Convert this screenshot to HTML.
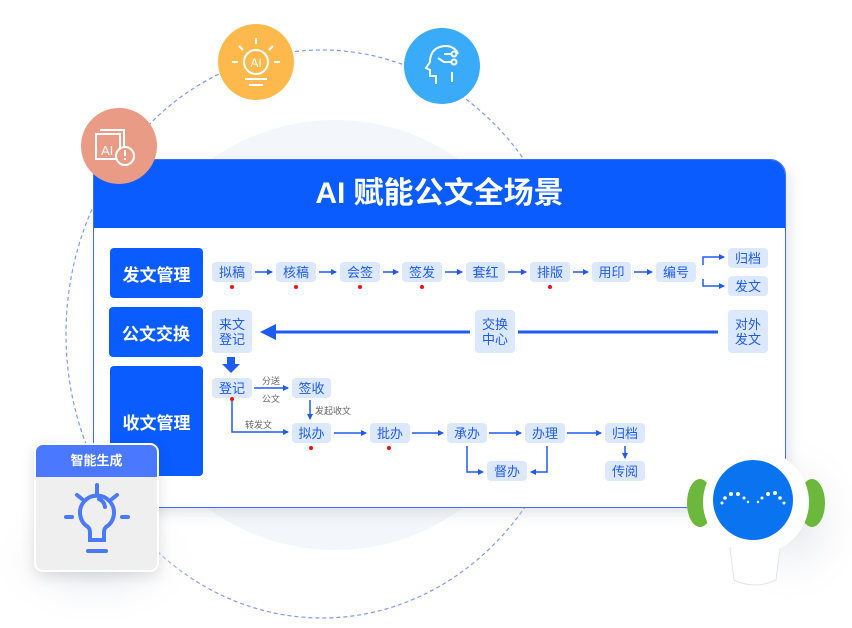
<!DOCTYPE html>
<html><head><meta charset="utf-8"><style>
html,body{margin:0;padding:0;background:#fff}
body{width:852px;height:628px;position:relative;overflow:hidden;font-family:"Liberation Sans","Noto Sans CJK SC",sans-serif}
.a{position:absolute}
.n{position:absolute;background:#dce8fd;border-radius:4px;color:#1e5bf0;font-size:13px;display:flex;align-items:center;justify-content:center;text-align:center;line-height:15px}
.s{position:absolute;background:#0a5cff;border-radius:4px;color:#fff;font-size:17px;font-weight:bold;display:flex;align-items:center;justify-content:center}
.d{position:absolute;width:4px;height:4px;border-radius:2px;background:#f01010}
.l{position:absolute;font-size:9px;color:#666}
</style></head><body>
<svg class="a" style="left:0;top:0" width="852" height="628">
<defs>
<radialGradient id="sh" cx="50%" cy="50%" r="50%"><stop offset="0" stop-color="#e3e5ea"/><stop offset="1" stop-color="#fff" stop-opacity="0"/></radialGradient>
<marker id="ar" markerWidth="6" markerHeight="6" refX="5" refY="3" orient="auto" markerUnits="userSpaceOnUse"><path d="M0,0 L6,3 L0,6 z" fill="#1e5bf0"/></marker>
</defs>
<ellipse cx="322" cy="334" rx="256" ry="284" fill="none" stroke="#7c9cf5" stroke-width="1.2" stroke-dasharray="4,3"/>
<circle cx="335" cy="335" r="215" fill="#f3f6fa"/>
<ellipse cx="95" cy="560" rx="110" ry="70" fill="url(#sh)"/>
<ellipse cx="790" cy="520" rx="80" ry="90" fill="url(#sh)"/>
<rect x="97" y="166" width="693" height="348" rx="16" fill="#c9ccd6" opacity="0.5" filter="blur(6px)"/>
</svg>
<div class="a" style="left:93px;top:159px;width:693px;height:349px;background:#fff;border-radius:16px 16px 0 0;border:1px solid #3f6cf0;box-sizing:border-box;overflow:hidden">
<div style="height:68px;background:#0a5cff;color:#fff;font-size:30px;font-weight:bold;text-align:center;line-height:68px">AI 赋能公文全场景</div>
</div>
<div class="s" style="left:110px;top:248px;width:93px;height:50px">发文管理</div>
<div class="s" style="left:109px;top:307px;width:94px;height:50px">公文交换</div>
<div class="s" style="left:110px;top:366px;width:93px;height:110px">收文管理</div>

<div class="n" style="left:212px;top:262px;width:40px;height:20px">拟稿</div>
<div class="n" style="left:276px;top:262px;width:40px;height:20px">核稿</div>
<div class="n" style="left:340px;top:262px;width:40px;height:20px">会签</div>
<div class="n" style="left:402px;top:262px;width:40px;height:20px">签发</div>
<div class="n" style="left:466px;top:262px;width:39px;height:20px">套红</div>
<div class="n" style="left:530px;top:262px;width:40px;height:20px">排版</div>
<div class="n" style="left:592px;top:262px;width:39px;height:20px">用印</div>
<div class="n" style="left:656px;top:262px;width:40px;height:20px">编号</div>
<div class="n" style="left:728px;top:248px;width:40px;height:20px">归档</div>
<div class="n" style="left:728px;top:276px;width:40px;height:20px">发文</div>
<div class="d" style="left:230px;top:285px"></div><div class="d" style="left:294px;top:285px"></div><div class="d" style="left:358px;top:285px"></div><div class="d" style="left:420px;top:285px"></div><div class="d" style="left:548px;top:285px"></div>

<div class="n" style="left:212px;top:310px;width:40px;height:43px">来文<br>登记</div>
<div class="n" style="left:475px;top:310px;width:40px;height:43px">交换<br>中心</div>
<div class="n" style="left:728px;top:310px;width:40px;height:43px">对外<br>发文</div>

<div class="n" style="left:212px;top:378px;width:40px;height:20px">登记</div>
<div class="n" style="left:292px;top:378px;width:39px;height:20px">签收</div>
<div class="n" style="left:292px;top:423px;width:39px;height:20px">拟办</div>
<div class="n" style="left:370px;top:423px;width:40px;height:20px">批办</div>
<div class="n" style="left:447px;top:423px;width:40px;height:20px">承办</div>
<div class="n" style="left:525px;top:423px;width:40px;height:20px">办理</div>
<div class="n" style="left:605px;top:423px;width:40px;height:20px">归档</div>
<div class="n" style="left:487px;top:461px;width:40px;height:20px">督办</div>
<div class="n" style="left:605px;top:461px;width:40px;height:20px">传阅</div>
<div class="d" style="left:230px;top:397px"></div><div class="d" style="left:309px;top:446px"></div><div class="d" style="left:387px;top:446px"></div>
<div class="l" style="left:262px;top:374px">分送</div>
<div class="l" style="left:262px;top:392px">公文</div>
<div class="l" style="left:315px;top:404px">发起收文</div>
<div class="l" style="left:245px;top:418px">转发文</div>

<svg class="a" style="left:0;top:0" width="852" height="628" fill="none" stroke="#1e5bf0" stroke-width="1.5">
<g marker-end="url(#ar)">
<line x1="255" y1="272" x2="272" y2="272"/><line x1="319" y1="272" x2="336" y2="272"/><line x1="383" y1="272" x2="398" y2="272"/><line x1="445" y1="272" x2="462" y2="272"/><line x1="508" y1="272" x2="526" y2="272"/><line x1="573" y1="272" x2="588" y2="272"/><line x1="634" y1="272" x2="652" y2="272"/>
<polyline points="703,265 703,257 724,257"/><polyline points="703,279 703,286 724,286"/>
<line x1="254" y1="388" x2="288" y2="388"/>
<line x1="310" y1="400" x2="310" y2="419"/>
<polyline points="232,401 232,432 288,432"/>
<line x1="334" y1="433" x2="366" y2="433"/><line x1="412" y1="433" x2="443" y2="433"/><line x1="489" y1="433" x2="521" y2="433"/><line x1="567" y1="433" x2="601" y2="433"/>
<line x1="625" y1="446" x2="625" y2="458"/>
<polyline points="467,446 467,472 483,472"/><polyline points="547,446 547,472 531,472"/>
</g>
<line x1="518" y1="332" x2="718" y2="332" stroke-width="3"/>
<line x1="275" y1="332" x2="470" y2="332" stroke-width="3"/>
<path d="M260,332 L276,324 L276,340 z" fill="#1e5bf0" stroke="none"/>
<path d="M227,357 h8 v7 h5 l-9,9 l-9,-9 h5 z" fill="#1e5bf0" stroke="none"/>
</svg>

<svg class="a" style="left:0;top:0" width="852" height="628">
<circle cx="119" cy="146" r="38" fill="#ea9b85"/>
<g fill="none" stroke="#fff" stroke-width="2"><path d="M100,130 h24 v25 M96,134 h24 v25 h-24 z"/><circle cx="125" cy="156" r="9" fill="#ea9b85"/></g>
<text x="101" y="155" fill="#fff" font-size="13" font-family="Liberation Sans">AI</text>
<rect x="124" y="150" width="2" height="6" fill="#fff"/><rect x="124" y="158" width="2" height="2" fill="#fff"/>
<circle cx="256" cy="62" r="38" fill="#fdb94c"/>
<g stroke="#fff" stroke-width="2" fill="none"><circle cx="256" cy="62" r="12"/><path d="M256,38v6 M239,46l4,4 M273,46l-4,4 M232,62h6 M274,62h6 M245,79h22 M249,85h14"/></g>
<text x="256" y="67" fill="#fff" font-size="12" text-anchor="middle" font-family="Liberation Sans">AI</text>
<circle cx="442" cy="66" r="38" fill="#3aabf8"/>
<g stroke="#fff" stroke-width="2" fill="none"><path d="M436,84 v-8 h-6 v-6 l-4,-2 4,-6 c0,-12 8,-16 16,-16 c6,0 11,4 12,8 M452,72v10 M438,58 l6,4 h8 M444,54h8"/><circle cx="454" cy="54" r="2.5"/><circle cx="454" cy="62" r="2.5"/></g>
</svg>

<div class="a" style="left:34px;top:443px;width:125px;height:129px;border:2px solid #fff;border-radius:9px;overflow:hidden;box-sizing:border-box;background:#efeff0;box-shadow:0 4px 14px rgba(0,0,0,0.12)">
<div style="height:32px;background:#4a78ff;color:#fff;font-size:13px;font-weight:bold;text-align:center;line-height:32px">智能生成</div>
<svg width="125" height="95"><g stroke="#4a78ff" stroke-width="4" stroke-linecap="round" fill="none"><path d="M52,50 a17,17 0 1 1 18,0 c-2,2 -2,4 -2,7 v6 h-14 v-6 c0,-3 0,-5 -2,-7z"/><path d="M52,74h18"/><path d="M61,8v8 M41,18l5,4 M81,18l-5,4 M30,40h6 M86,40h6"/><path d="M63,22 a10,10 0 0 1 6,8"/></g></svg>
</div>

<svg class="a" style="left:680px;top:420px" width="172" height="208">
<line x1="70" y1="50" x2="58" y2="30" stroke="#fff" stroke-width="3"/><line x1="88" y1="48" x2="98" y2="18" stroke="#fff" stroke-width="3"/>
<circle cx="58" cy="27" r="4" fill="#fff"/><circle cx="99" cy="15" r="4" fill="#fff"/>
<ellipse cx="20" cy="83" rx="13" ry="24" fill="#6cb83d"/>
<ellipse cx="132" cy="83" rx="13" ry="24" fill="#6cb83d"/>
<path d="M50,128 L100,128 L96,160 Q75,170 54,160 z" fill="#fff" stroke="#e4e4e4"/>
<ellipse cx="76" cy="82" rx="53" ry="52" fill="#fff"/>
<circle cx="73" cy="80" r="40" fill="#0a74f0"/>
<g fill="#fff"><circle cx="42" cy="83" r="1.5"/><circle cx="45" cy="78" r="1.8"/><circle cx="51" cy="74" r="2"/><circle cx="58" cy="74" r="2"/><circle cx="64" cy="78" r="1.5"/><circle cx="68" cy="82" r="1.2"/><circle cx="78" cy="82" r="1.2"/><circle cx="82" cy="78" r="1.5"/><circle cx="88" cy="74" r="2"/><circle cx="95" cy="73" r="2"/><circle cx="100" cy="78" r="1.8"/><circle cx="104" cy="83" r="1.5"/></g>
</svg>
</body></html>
